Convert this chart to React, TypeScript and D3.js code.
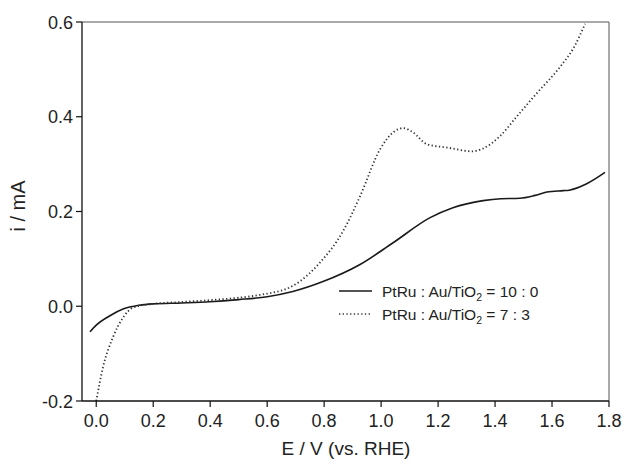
import React from "react";
import * as d3 from "d3";

const xTicks = [0.0, 0.2, 0.4, 0.6, 0.8, 1.0, 1.2, 1.4, 1.6, 1.8];
const yTicks = [-0.2, 0.0, 0.2, 0.4, 0.6];

const seriesNames = ["10 : 0", "7 : 3"];

const solidX = [-0.022, 0.0, 0.048, 0.094, 0.15, 0.199, 0.3, 0.399, 0.5, 0.6, 0.69, 0.796, 0.926, 1.042, 1.172, 1.252, 1.358, 1.42, 1.487, 1.54, 1.582, 1.639, 1.66, 1.72, 1.786];
const solidY = [-0.054, -0.04, -0.02, -0.006, 0.002, 0.005, 0.007, 0.0095, 0.014, 0.02, 0.031, 0.052, 0.088, 0.134, 0.187, 0.208, 0.223, 0.227, 0.228, 0.234, 0.241, 0.244, 0.245, 0.258, 0.2825];

const dotX = [0.0, 0.024, 0.059, 0.094, 0.129, 0.199, 0.3, 0.4, 0.5, 0.575, 0.69, 0.785, 0.866, 0.926, 0.996, 1.042, 1.077, 1.112, 1.161, 1.232, 1.319, 1.358, 1.417, 1.477, 1.547, 1.628, 1.68, 1.716];
const dotY = [-0.2, -0.128, -0.065, -0.024, -0.003, 0.005, 0.009, 0.013, 0.018, 0.024, 0.043, 0.092, 0.158, 0.232, 0.331, 0.367, 0.376, 0.367, 0.342, 0.335, 0.327, 0.333, 0.359, 0.401, 0.45, 0.505, 0.55, 0.596];

const W = 628, H = 465;
const L = 82, T = 22, R = 609, B = 401;
const FONT = "'Liberation Sans', Arial, Helvetica, sans-serif";

export default function App() {
  const x = d3.scaleLinear().domain([-0.05, 1.8]).range([L, R]);
  const y = d3.scaleLinear().domain([-0.2, 0.6]).range([B, T]);
  const line = d3.line<[number, number]>().x(d => x(d[0])).y(d => y(d[1])).curve(d3.curveMonotoneX);
  const solid = line(solidX.map((v, i) => [v, solidY[i]] as [number, number])) || "";
  const dotted = line(dotX.map((v, i) => [v, dotY[i]] as [number, number])) || "";

  return (
    <svg width={W} height={H} style={{ position: "absolute", left: 0, top: 0, background: "#fff" }} fontFamily={FONT}>
      <defs>
        <clipPath id="plot"><rect x={L} y={T} width={R - L} height={B - T} /></clipPath>
      </defs>
      <rect x={0} y={0} width={W} height={H} fill="#fff" />
      <g clipPath="url(#plot)">
        <path d={solid} fill="none" stroke="#1a1a1a" strokeWidth={1.6} />
        <path d={dotted} fill="none" stroke="#333" strokeWidth={1.8} strokeDasharray="1.3 2.4" />
      </g>
      {/* frame */}
      <line x1={L} y1={T} x2={R} y2={T} stroke="#555" strokeWidth={1} />
      <line x1={R} y1={T} x2={R} y2={B} stroke="#555" strokeWidth={1} />
      <line x1={L} y1={T} x2={L} y2={B} stroke="#111" strokeWidth={1.3} />
      <line x1={L} y1={B} x2={R} y2={B} stroke="#111" strokeWidth={1.3} />
      {xTicks.map(t => (
        <g key={"x" + t}>
          <line x1={x(t)} x2={x(t)} y1={B} y2={B + 6} stroke="#111" strokeWidth={1.2} />
          <text x={x(t)} y={B + 26} textAnchor="middle" fontSize={18} fill="#222">{t.toFixed(1)}</text>
        </g>
      ))}
      {yTicks.map(t => (
        <g key={"y" + t}>
          <line x1={L - 6} x2={L} y1={y(t)} y2={y(t)} stroke="#111" strokeWidth={1.2} />
          <text x={L - 9} y={y(t) + 6.5} textAnchor="end" fontSize={18} fill="#222">{t.toFixed(1)}</text>
        </g>
      ))}
      <text x={346} y={455} textAnchor="middle" fontSize={19} fill="#222">E / V (vs. RHE)</text>
      <text transform={`translate(25,206) rotate(-90)`} textAnchor="middle" fontSize={20} fill="#222">i / mA</text>
      {/* legend */}
      {seriesNames.map((n, i) => (
        <g key={n} transform={`translate(0,${291 + i * 23})`}>
          <line x1={339} x2={372} y1={0} y2={0} stroke={i === 0 ? "#1a1a1a" : "#333"} strokeWidth={1.5} strokeDasharray={i === 0 ? undefined : "1.3 2.4"} />
          <text x={382} y={5.5} fontSize={15.5} fill="#222">
            PtRu : Au/TiO<tspan fontSize={10.5} dy={4}>2</tspan><tspan dy={-4}> = {n}</tspan>
          </text>
        </g>
      ))}
    </svg>
  );
}
